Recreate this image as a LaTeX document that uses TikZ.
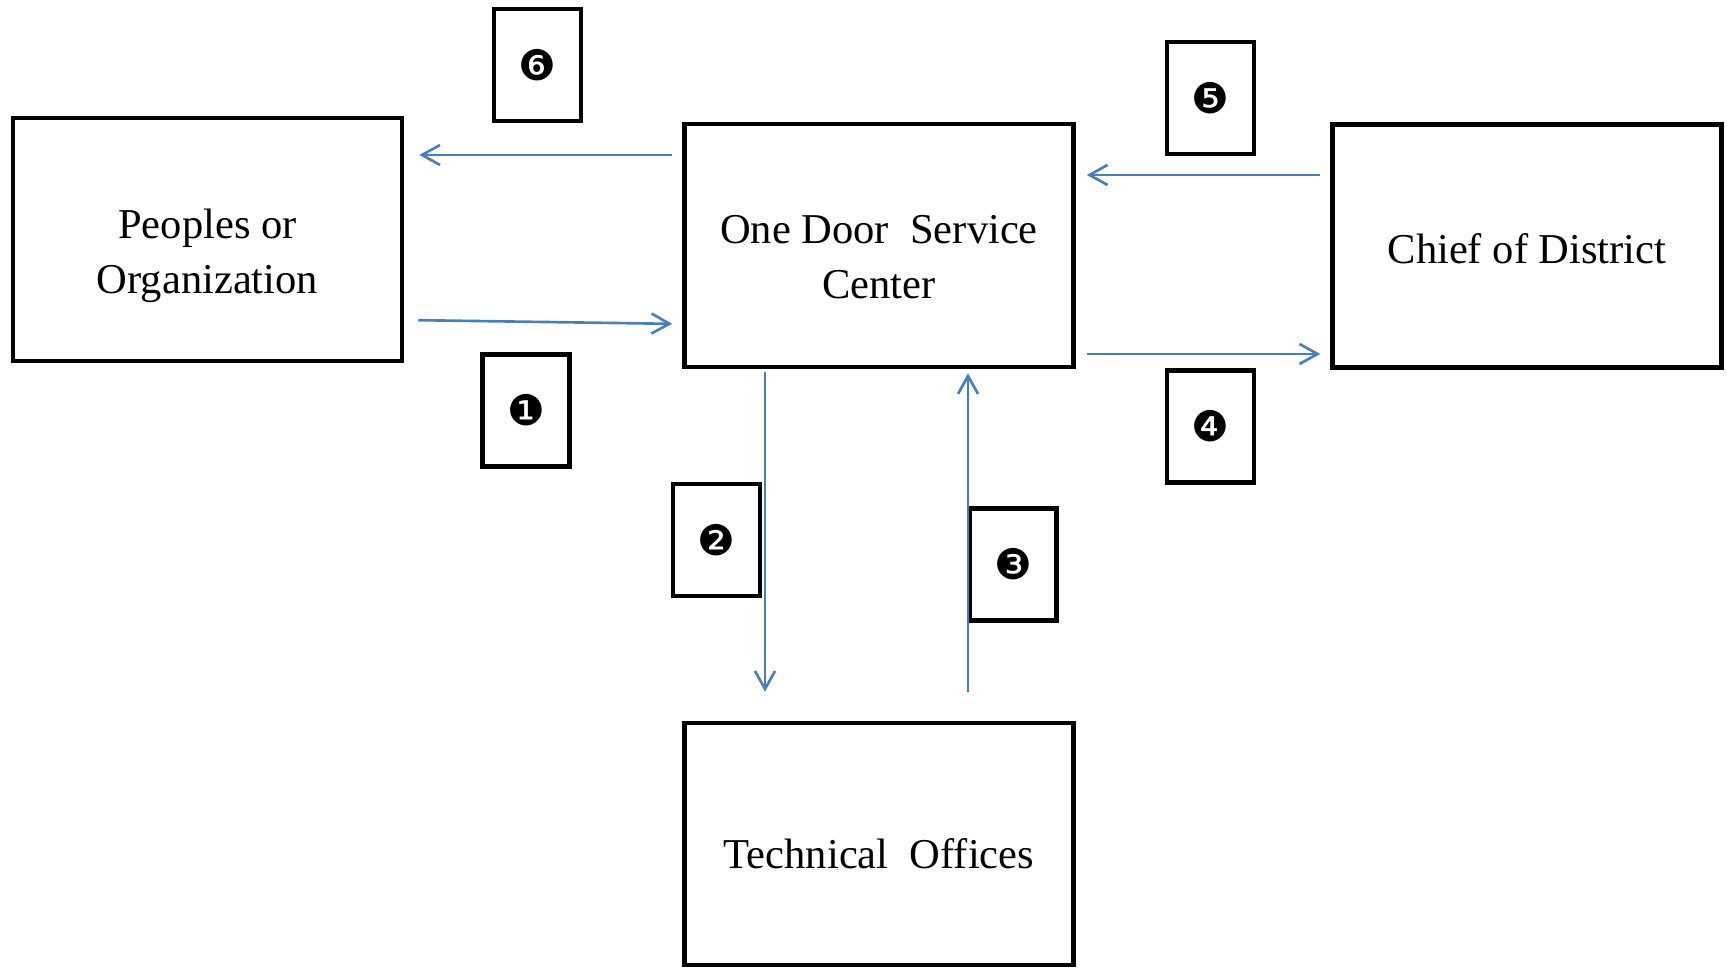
\documentclass[tikz,border=0pt]{standalone}
\usepackage{fontspec}
\setmainfont{Liberation Serif}
\newfontfamily\dejavu{DejaVu Sans}
\usepackage{tikz}
\usetikzlibrary{arrows.meta}
\definecolor{flowblue}{RGB}{74,126,187}

\tikzset{
  unit/.style={draw, line width=1.3pt, minimum width=3.89cm, minimum height=2.43cm},
  unittext/.style={align=center, inner sep=0pt, font=\fontsize{12.1}{15.6}\selectfont},
  stepno/.style={draw, line width=1.3pt, minimum width=0.87cm, minimum height=1.12cm,
    inner sep=0pt, font=\dejavu\fontsize{12}{13}\selectfont},
  flow/.style={flowblue, line width=0.75pt, -{Straight Barb[length=1.8mm,width=2mm]}}
}

\begin{document}
\begin{tikzpicture}
  \useasboundingbox (0,0) rectangle (17.27,9.68);
  % offices
  \node[unit] (people) at (2.075,7.285) {};
  \node[unit] (odsc) at (8.79,7.225) {};
  \node[unit] (chief) at (15.27,7.22) {};
  \node[unit, minimum height=2.42cm] (tech) at (8.79,1.24) {};
  \node[unittext, yshift=-1.6mm] (peopletxt) at (people) {Peoples or\\Organization};
  \node[unittext, yshift=-1.2mm] (odsctxt) at (odsc) {One Door~ Service\\Center};
  \node[unittext, yshift=-0.3mm] (chieftxt) at (chief) {Chief of District};
  \node[unittext, yshift=-1.0mm] (techtxt) at (tech) {Technical~ Offices};
  % step numbers
  \node[stepno] (s1) at (5.26,5.575) {❶};
  \node[stepno] (s2) at (7.165,4.28) {❷};
  \node[stepno] (s3) at (10.13,4.035) {❸};
  \node[stepno] (s4) at (12.105,5.415) {❹};
  \node[stepno] (s5) at (12.105,8.70) {❺};
  \node[stepno] (s6) at (5.375,9.03) {❻};
  % flows
  \draw[flow, shorten <=0.14cm, shorten >=0.1cm] (people.east |- 0,6.48) -- (odsc.west |- 0,6.44);
  \draw[flow, shorten <=0.03cm, shorten >=0.29cm] (odsc.south -| 7.65,0) -- (tech.north -| 7.65,0);
  \draw[flow, shorten <=0.29cm, shorten >=0.04cm] (tech.north -| 9.68,0) -- (odsc.south -| 9.68,0);
  \draw[flow, shorten <=0.11cm, shorten >=0.1cm] (odsc.east |- 0,6.14) -- (chief.west |- 0,6.14);
  \draw[flow, shorten <=0.1cm, shorten >=0.11cm] (chief.west |- 0,7.93) -- (odsc.east |- 0,7.93);
  \draw[flow, shorten <=0.1cm, shorten >=0.15cm] (odsc.west |- 0,8.13) -- (people.east |- 0,8.13);
\end{tikzpicture}
\end{document}
